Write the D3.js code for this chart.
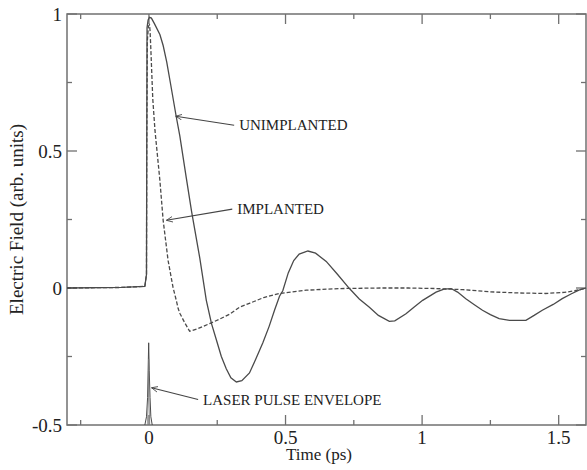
<!DOCTYPE html>
<html>
<head>
<meta charset="utf-8">
<script src="https://cdn.jsdelivr.net/npm/d3@7"></script>
<style>
  body { margin: 0; background: #fff; }
  svg text { font-family: "Liberation Serif", "DejaVu Serif", serif; fill: #222; }
</style>
</head>
<body>
<div id="chart"></div>
<script>
// time (ps) and field (arb. units)
var unimplanted = [
    [-0.3, 0.0], [-0.1, 0.002], [-0.015, 0.006], [-0.009, 0.05], [-0.008, 0.5],
    [-0.007, 0.95], [-0.003, 0.978], [0.002, 0.988], [0.009, 0.985], [0.02, 0.965],
    [0.04, 0.925], [0.052, 0.885], [0.065, 0.825], [0.08, 0.74], [0.1, 0.625],
    [0.113, 0.555], [0.137, 0.4], [0.156, 0.28], [0.186, 0.11], [0.21, -0.045],
    [0.229, -0.13], [0.247, -0.19], [0.265, -0.25], [0.283, -0.295], [0.3, -0.328],
    [0.32, -0.343], [0.34, -0.338], [0.368, -0.31], [0.39, -0.262], [0.417, -0.2],
    [0.44, -0.14], [0.46, -0.08], [0.478, -0.03], [0.49, -0.01], [0.51, 0.055],
    [0.53, 0.1], [0.55, 0.124], [0.582, 0.135], [0.61, 0.127], [0.649, 0.097],
    [0.69, 0.05], [0.734, -0.002], [0.77, -0.04], [0.807, -0.07], [0.84, -0.1],
    [0.88, -0.122], [0.9, -0.12], [0.941, -0.094], [0.97, -0.07], [1.002, -0.045],
    [1.051, -0.015], [1.08, -0.004], [1.106, -0.002], [1.13, -0.015], [1.16, -0.039],
    [1.19, -0.06], [1.221, -0.081], [1.25, -0.097], [1.282, -0.112], [1.32, -0.118],
    [1.38, -0.118], [1.41, -0.1], [1.44, -0.081], [1.48, -0.06], [1.513, -0.039],
    [1.545, -0.022], [1.574, -0.008], [1.6, 0.0]
];
var implanted = [
    [-0.3, 0.0], [-0.1, 0.002], [-0.015, 0.006], [-0.009, 0.05], [-0.008, 0.5],
    [-0.006, 0.9], [-0.002, 0.955], [0.002, 0.96], [0.004, 0.94], [0.007, 0.87],
    [0.014, 0.69], [0.022, 0.576], [0.04, 0.393], [0.052, 0.247], [0.07, 0.101],
    [0.088, 0.003], [0.1, -0.045], [0.107, -0.075], [0.113, -0.092], [0.13, -0.125],
    [0.149, -0.158], [0.18, -0.148], [0.222, -0.13], [0.26, -0.113], [0.296, -0.095],
    [0.332, -0.07], [0.37, -0.055], [0.42, -0.035], [0.478, -0.02], [0.576, -0.008],
    [0.7, -0.002], [0.85, 0.0], [0.95, 0.0], [1.05, -0.002], [1.15, -0.006],
    [1.25, -0.014], [1.35, -0.018], [1.45, -0.02], [1.52, -0.016], [1.56, -0.01],
    [1.6, 0.0]
];
var laserOuter = [
    [-0.015, -0.5], [-0.009, -0.47], [-0.005, -0.4], [-0.003, -0.3], [-0.001, -0.2],
    [0.001, -0.3], [0.004, -0.4], [0.007, -0.47], [0.012, -0.5]
];
var laserInner = [
    [-0.006, -0.5], [-0.002, -0.4], [-0.001, -0.26], [0.0, -0.4], [0.003, -0.5]
];

var xMajor = [0, 0.5, 1, 1.5];
var xMinor = [-0.25, 0.25, 0.75, 1.25];
var yMajor = [-0.5, 0, 0.5, 1];
var yMinor = [-0.25, 0.25, 0.75];

var notes = [
    {text: "UNIMPLANTED", tip: [0.098, 0.627], tail: [0.312, 0.594]},
    {text: "IMPLANTED", tip: [0.064, 0.247], tail: [0.305, 0.288]},
    {text: "LASER PULSE ENVELOPE", tip: [0.0095, -0.364], tail: [0.18, -0.407]}
];

var W = 587, H = 470;
var margin = {left: 67, right: 1, top: 14, bottom: 45};

var svg = d3.select("#chart").append("svg")
    .attr("width", W).attr("height", H);

var x = d3.scaleLinear().domain([-0.3, 1.6]).range([margin.left, W - margin.right]);
var y = d3.scaleLinear().domain([-0.5, 1]).range([H - margin.bottom, margin.top]);

var frameColor = "#707070";

// ticks, all pointing inward
function tickSet(vals, len, cls) {
    vals.forEach(function(v) {
        svg.append("line").attr("class", cls)
            .attr("x1", x(v)).attr("x2", x(v))
            .attr("y1", y(-0.5)).attr("y2", y(-0.5) - len);
        svg.append("line").attr("class", cls)
            .attr("x1", x(v)).attr("x2", x(v))
            .attr("y1", y(1)).attr("y2", y(1) + len);
    });
}
function tickSetY(vals, len, cls) {
    vals.forEach(function(v) {
        svg.append("line").attr("class", cls)
            .attr("x1", x(-0.3)).attr("x2", x(-0.3) + len)
            .attr("y1", y(v)).attr("y2", y(v));
        svg.append("line").attr("class", cls)
            .attr("x1", x(1.6)).attr("x2", x(1.6) - len)
            .attr("y1", y(v)).attr("y2", y(v));
    });
}
tickSet(xMajor, 10, "tick");
tickSet(xMinor, 5, "tick");
tickSetY(yMajor, 10, "tick");
tickSetY(yMinor, 5, "tick");
svg.selectAll(".tick").attr("stroke", frameColor).attr("stroke-width", 1.3);

svg.append("rect")
    .attr("x", x(-0.3)).attr("y", y(1))
    .attr("width", x(1.6) - x(-0.3)).attr("height", y(-0.5) - y(1))
    .attr("fill", "none").attr("stroke", frameColor).attr("stroke-width", 1.5);

// tick labels
svg.selectAll(".xlab").data(xMajor).enter()
    .append("text").attr("class", "xlab")
    .attr("x", function(d) { return x(d); })
    .attr("y", 444)
    .attr("text-anchor", "middle")
    .attr("font-size", "19px")
    .text(function(d) { return d3.format("")(d); });

svg.selectAll(".ylab").data(yMajor).enter()
    .append("text").attr("class", "ylab")
    .attr("x", 62)
    .attr("y", function(d) { return y(d); })
    .attr("dy", "0.35em")
    .attr("text-anchor", "end")
    .attr("font-size", "19px")
    .text(function(d) { return d3.format("")(d).replace("−", "-"); });

svg.append("text")
    .attr("x", 319).attr("y", 460)
    .attr("text-anchor", "middle")
    .attr("font-size", "17px")
    .text("Time (ps)");

svg.append("text")
    .attr("transform", "translate(23," + ((y(1) + y(-0.5)) / 2) + ") rotate(-90)")
    .attr("text-anchor", "middle")
    .attr("font-size", "19px")
    .text("Electric Field (arb. units)");

// curves
var line = d3.line()
    .x(function(d) { return x(d[0]); })
    .y(function(d) { return y(d[1]); });

svg.append("path").attr("d", line(unimplanted))
    .attr("fill", "none").attr("stroke", "#4a4a4a").attr("stroke-width", 1.3);
svg.append("path").attr("d", line(implanted))
    .attr("fill", "none").attr("stroke", "#4a4a4a").attr("stroke-width", 1.3)
    .attr("stroke-dasharray", "4,2");
svg.append("path").attr("d", line(laserOuter))
    .attr("fill", "none").attr("stroke", "#4a4a4a").attr("stroke-width", 1);
svg.append("path").attr("d", line(laserInner))
    .attr("fill", "none").attr("stroke", "#777").attr("stroke-width", 0.7);

// annotations
svg.append("defs").append("marker")
    .attr("id", "head")
    .attr("viewBox", "0 0 10 10")
    .attr("refX", 9).attr("refY", 5)
    .attr("markerWidth", 7).attr("markerHeight", 7)
    .attr("markerUnits", "userSpaceOnUse")
    .attr("orient", "auto")
    .append("path").attr("d", "M0,1 L9,5 L0,9")
    .attr("fill", "none").attr("stroke", "#444").attr("stroke-width", 1.2);

notes.forEach(function(n) {
    svg.append("line")
        .attr("x1", x(n.tail[0])).attr("y1", y(n.tail[1]))
        .attr("x2", x(n.tip[0])).attr("y2", y(n.tip[1]))
        .attr("stroke", "#444").attr("stroke-width", 1.1)
        .attr("marker-end", "url(#head)");
    svg.append("text")
        .attr("x", x(n.tail[0]) + 5).attr("y", y(n.tail[1]))
        .attr("dy", "0.35em")
        .attr("font-size", "15px")
        .text(n.text);
});
</script>
</body>
</html>
